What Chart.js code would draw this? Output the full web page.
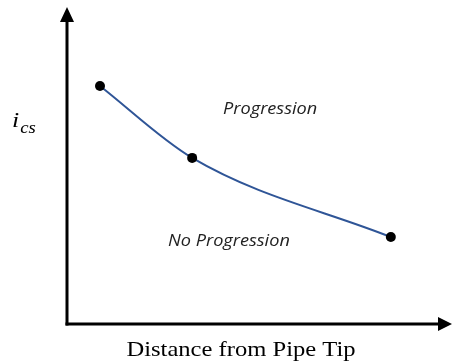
<!DOCTYPE html>
<html>
<head>
<meta charset="utf-8">
<script src="https://cdn.jsdelivr.net/npm/chart.js"></script>
<style>
  html, body { margin: 0; padding: 0; background: #fff; }
  #wrap { width: 452px; height: 363px; }
</style>
</head>
<body>
<div id="wrap"><canvas id="curve" width="452" height="363"></canvas></div>
<script>
// distance from pipe tip (arbitrary units, 0..100)
var distance = [8.75, 33.2, 85.9];
// critical gradient i_cs (arbitrary units, 0..100)
var ics = [75.8, 52.9, 27.7];

var xTitle = 'Distance from Pipe Tip';
var regionLabels = ['Progression', 'No Progression'];
var regionX = [41.4, 26.8];
var regionY = [66.9, 24.8];

var curveColor = '#2f5597';
var stretch = 1.17; // the source figure's text is a bit wide

var points = distance.map(function (d, i) { return { x: d, y: ics[i] }; });

function wideText(ctx, text, x, y, font, align) {
    ctx.save();
    ctx.font = font;
    ctx.textAlign = align;
    ctx.translate(x, y);
    ctx.scale(stretch, 1);
    ctx.fillText(text, 0, 0);
    var w = ctx.measureText(text).width * stretch;
    ctx.restore();
    return w;
}

var sketchAxes = {
    id: 'sketchAxes',
    afterDraw: function (chart) {
        var ctx = chart.ctx;
        var area = chart.chartArea;
        var xs = chart.scales.x, ys = chart.scales.y;
        ctx.save();
        ctx.strokeStyle = '#000';
        ctx.fillStyle = '#000';
        ctx.lineWidth = 3;
        // y axis
        ctx.beginPath();
        ctx.moveTo(area.left, area.bottom + 1.5);
        ctx.lineTo(area.left, area.top + 8);
        ctx.stroke();
        ctx.beginPath();
        ctx.moveTo(area.left, area.top - 3);
        ctx.lineTo(area.left - 7, area.top + 12);
        ctx.lineTo(area.left + 7, area.top + 12);
        ctx.closePath();
        ctx.fill();
        // x axis
        ctx.beginPath();
        ctx.moveTo(area.left - 1.5, area.bottom);
        ctx.lineTo(area.right + 2, area.bottom);
        ctx.stroke();
        ctx.beginPath();
        ctx.moveTo(area.right + 8, area.bottom);
        ctx.lineTo(area.right - 6, area.bottom - 7);
        ctx.lineTo(area.right - 6, area.bottom + 7);
        ctx.closePath();
        ctx.fill();

        // region labels
        ctx.textBaseline = 'alphabetic';
        ctx.fillStyle = '#222';
        regionLabels.forEach(function (t, i) {
            wideText(ctx, t, xs.getPixelForValue(regionX[i]), ys.getPixelForValue(regionY[i]),
                'italic 15.5px "Open Sans"', 'left');
        });

        // x title
        ctx.fillStyle = '#000';
        wideText(ctx, xTitle, 241, 356, '21px "Liberation Serif"', 'center');

        // y title: i with subscript cs
        var w = wideText(ctx, 'i', 12, 127, 'italic 22px "Liberation Serif"', 'left');
        wideText(ctx, 'cs', 12 + w + 1, 133, 'italic 16px "Liberation Serif"', 'left');
        ctx.restore();
    }
};

new Chart(document.getElementById('curve').getContext('2d'), {
    type: 'scatter',
    data: {
        datasets: [{
            data: points,
            showLine: true,
            borderColor: curveColor,
            borderWidth: 2,
            cubicInterpolationMode: 'monotone',
            pointBackgroundColor: '#000',
            pointBorderColor: '#000',
            pointRadius: 5,
            pointBorderWidth: 0,
            fill: false
        }]
    },
    options: {
        responsive: false,
        animation: false,
        layout: { padding: { left: 67, right: 8, top: 10, bottom: 39 } },
        plugins: { legend: { display: false }, tooltip: { enabled: false } },
        scales: {
            x: { type: 'linear', min: 0, max: 100, display: false },
            y: { type: 'linear', min: 0, max: 100, display: false }
        }
    },
    plugins: [sketchAxes]
});
</script>
</body>
</html>
